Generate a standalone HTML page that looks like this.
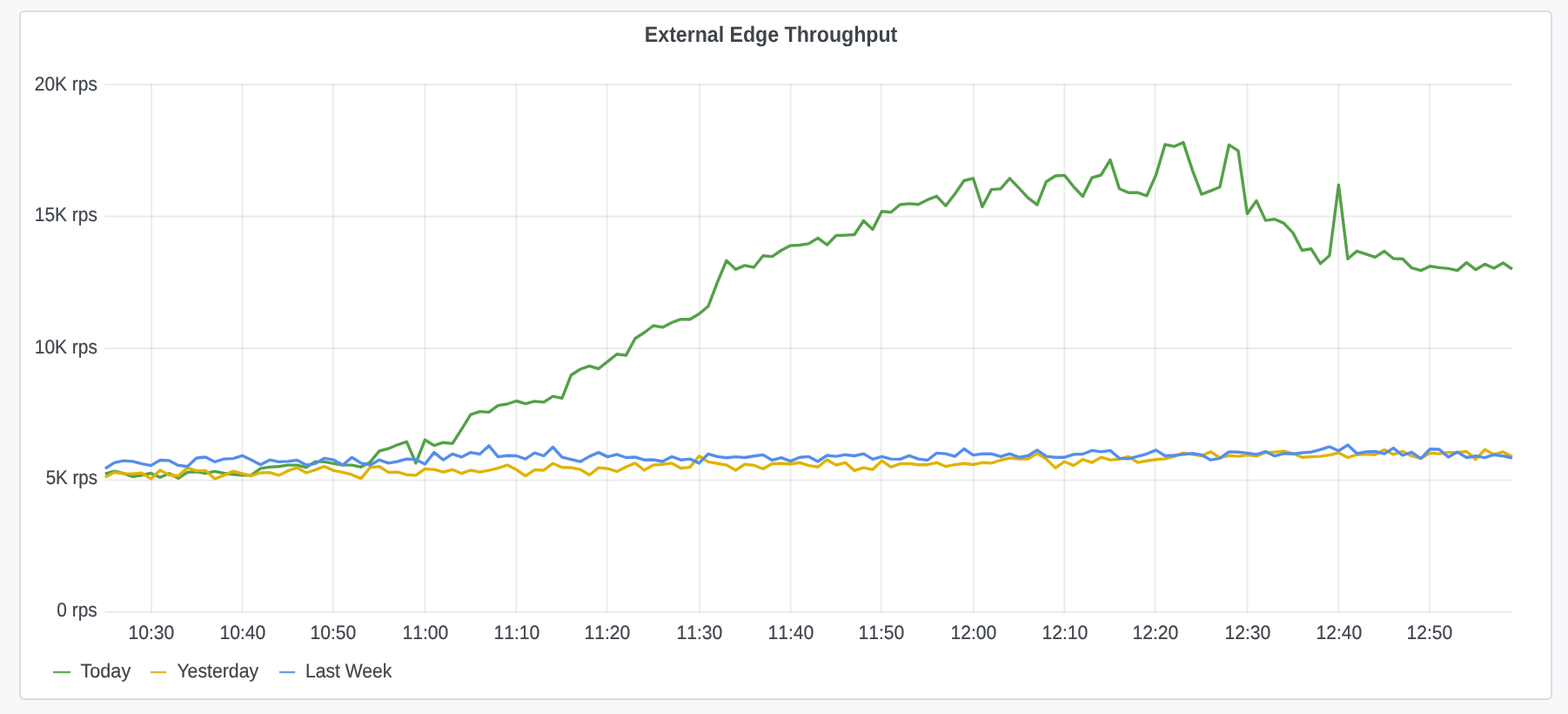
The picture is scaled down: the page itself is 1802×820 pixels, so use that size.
<!DOCTYPE html>
<html lang="en">
<head>
<meta charset="utf-8">
<title>External Edge Throughput</title>
<style>
html,body{margin:0;padding:0}
body{width:1802px;height:820px;overflow:hidden;background:#f7f8fa;position:relative;font-family:"Liberation Sans",sans-serif}
.panel{position:absolute;left:22px;top:12px;width:1758px;height:788px;border:2px solid #dadde0;border-radius:6px;background:#fff}
svg{position:absolute;left:0;top:0}
svg text{font-family:"Liberation Sans",sans-serif;fill:#40454c;stroke:#40454c;stroke-width:.2px;text-rendering:geometricPrecision}
svg text.title{font-weight:bold;fill:#3f444b;stroke:none}
svg text.xl{font-kerning:none}
.grid rect{fill:#000;fill-opacity:.08}
.series path{fill:none;stroke-width:3.4;stroke-linejoin:round;stroke-linecap:butt}
</style>
</head>
<body>
<div class="panel"></div>
<svg width="1802" height="820" viewBox="0 0 1802 820" role="img" aria-label="External Edge Throughput line chart">
<g class="grid">
<rect x="120.5" y="96.15" width="1617.3" height="1.9"/>
<rect x="120.5" y="247.65" width="1617.3" height="1.9"/>
<rect x="120.5" y="399.05" width="1617.3" height="1.9"/>
<rect x="120.5" y="550.55" width="1617.3" height="1.9"/>
<rect x="120.5" y="702.05" width="1617.3" height="1.9"/>
<rect x="173.17" y="96.1" width="1.85" height="607.9"/>
<rect x="277.47" y="96.1" width="1.85" height="607.9"/>
<rect x="381.88" y="96.1" width="1.85" height="607.9"/>
<rect x="487.47" y="96.1" width="1.85" height="607.9"/>
<rect x="592.38" y="96.1" width="1.85" height="607.9"/>
<rect x="696.68" y="96.1" width="1.85" height="607.9"/>
<rect x="803.08" y="96.1" width="1.85" height="607.9"/>
<rect x="907.68" y="96.1" width="1.85" height="607.9"/>
<rect x="1011.78" y="96.1" width="1.85" height="607.9"/>
<rect x="1117.88" y="96.1" width="1.85" height="607.9"/>
<rect x="1222.38" y="96.1" width="1.85" height="607.9"/>
<rect x="1326.67" y="96.1" width="1.85" height="607.9"/>
<rect x="1432.67" y="96.1" width="1.85" height="607.9"/>
<rect x="1537.48" y="96.1" width="1.85" height="607.9"/>
<rect x="1641.98" y="96.1" width="1.85" height="607.9"/>
</g>
<g class="series">
<path stroke="#53a147" d="M120.9 544.1 L131.4 541.1 L141.9 543.7 L152.4 547.4 L162.9 545.7 L173.4 543.5 L183.9 548.2 L194.4 543.7 L204.9 549.3 L215.4 542.4 L225.9 541.8 L236.4 543.5 L246.9 541.3 L257.4 543.5 L267.9 544.8 L278.4 545.7 L288.9 545.7 L299.4 538.0 L309.9 536.4 L320.4 535.7 L330.9 534.1 L341.4 534.1 L351.9 536.8 L362.4 530.2 L372.9 530.4 L383.4 532.4 L393.9 534.1 L404.4 534.1 L414.9 536.3 L425.4 530.7 L435.9 518.0 L446.4 515.2 L456.9 510.8 L467.4 507.4 L477.9 531.9 L488.4 505.2 L498.9 511.6 L509.4 508.2 L519.9 509.4 L530.4 493.1 L540.9 476.1 L551.4 472.6 L561.9 473.4 L572.4 465.6 L582.9 464.0 L593.4 460.5 L603.9 463.6 L614.4 460.9 L624.9 461.9 L635.4 455.1 L645.9 457.3 L656.4 430.7 L666.9 424.0 L677.4 420.3 L687.9 423.5 L698.4 415.2 L708.9 406.7 L719.4 408.1 L729.9 388.8 L740.4 382.0 L750.9 374.0 L761.4 375.9 L771.9 370.5 L782.4 366.6 L792.9 366.8 L803.4 360.5 L813.9 351.8 L824.4 324.4 L834.9 299.2 L845.4 309.4 L855.9 304.9 L866.4 307.0 L876.9 293.8 L887.4 294.6 L897.9 287.5 L908.4 282.1 L918.9 281.5 L929.4 279.9 L939.9 273.4 L950.4 281.2 L960.9 270.5 L971.4 270.1 L981.9 269.5 L992.4 253.5 L1002.9 263.4 L1013.4 242.8 L1023.9 243.7 L1034.4 235.0 L1044.9 233.9 L1055.4 234.7 L1065.9 229.4 L1076.4 225.3 L1086.9 236.3 L1097.4 222.7 L1107.9 207.5 L1118.4 204.8 L1128.9 237.4 L1139.4 217.6 L1149.9 216.9 L1160.4 204.8 L1170.9 215.8 L1181.4 227.2 L1191.9 235.2 L1202.4 208.7 L1212.9 202.0 L1223.4 201.4 L1233.9 214.5 L1244.4 225.6 L1254.9 204.1 L1265.4 201.0 L1275.9 183.6 L1286.4 216.7 L1296.9 221.2 L1307.4 221.2 L1317.9 224.8 L1328.4 201.3 L1338.9 166.0 L1349.4 168.2 L1359.9 163.6 L1370.4 195.6 L1380.9 223.1 L1391.4 219.1 L1401.9 214.7 L1412.4 166.4 L1422.9 173.1 L1433.4 245.4 L1443.9 230.5 L1454.4 253.1 L1464.9 251.7 L1475.4 256.4 L1485.9 267.4 L1496.4 287.5 L1506.9 285.8 L1517.4 302.7 L1527.9 293.5 L1538.4 212.4 L1548.9 297.3 L1559.4 288.4 L1569.9 291.9 L1580.4 295.4 L1590.9 288.5 L1601.4 297.0 L1611.9 297.2 L1622.4 307.7 L1632.9 310.6 L1643.4 305.7 L1653.9 307.4 L1664.4 308.4 L1674.9 310.6 L1685.4 301.6 L1695.9 309.7 L1706.4 303.4 L1716.9 308.0 L1727.4 302.0 L1737.9 309.0"/>
<path stroke="#e0b303" d="M120.9 547.9 L131.4 542.4 L141.9 544.1 L152.4 544.1 L162.9 543.2 L173.4 549.9 L183.9 540.0 L194.4 545.5 L204.9 546.5 L215.4 537.4 L225.9 540.7 L236.4 540.4 L246.9 549.9 L257.4 545.9 L267.9 541.1 L278.4 543.8 L288.9 546.5 L299.4 543.0 L309.9 542.6 L320.4 545.9 L330.9 540.7 L341.4 537.1 L351.9 543.0 L362.4 539.6 L372.9 535.7 L383.4 540.4 L393.9 542.4 L404.4 545.2 L414.9 549.6 L425.4 536.8 L435.9 535.7 L446.4 542.4 L456.9 542.2 L467.4 545.2 L477.9 545.9 L488.4 538.5 L498.9 539.1 L509.4 542.2 L519.9 539.3 L530.4 543.7 L540.9 540.0 L551.4 542.2 L561.9 540.2 L572.4 537.7 L582.9 534.1 L593.4 539.3 L603.9 546.6 L614.4 539.6 L624.9 540.0 L635.4 532.2 L645.9 536.8 L656.4 537.1 L666.9 539.1 L677.4 545.5 L687.9 537.1 L698.4 538.2 L708.9 541.5 L719.4 536.3 L729.9 531.9 L740.4 540.0 L750.9 534.1 L761.4 533.3 L771.9 531.9 L782.4 537.7 L792.9 536.6 L803.4 523.7 L813.9 530.4 L824.4 532.2 L834.9 534.1 L845.4 540.0 L855.9 533.3 L866.4 534.4 L876.9 538.5 L887.4 532.6 L897.9 532.2 L908.4 533.0 L918.9 531.3 L929.4 534.6 L939.9 536.3 L950.4 528.0 L960.9 534.1 L971.4 531.3 L981.9 540.4 L992.4 537.1 L1002.9 539.3 L1013.4 529.1 L1023.9 536.3 L1034.4 532.6 L1044.9 532.4 L1055.4 533.7 L1065.9 533.7 L1076.4 531.3 L1086.9 535.7 L1097.4 533.7 L1107.9 532.2 L1118.4 533.5 L1128.9 531.3 L1139.4 531.9 L1149.9 528.5 L1160.4 526.0 L1170.9 527.1 L1181.4 527.1 L1191.9 520.8 L1202.4 527.1 L1212.9 537.4 L1223.4 530.2 L1233.9 534.6 L1244.4 527.7 L1254.9 531.2 L1265.4 525.2 L1275.9 528.2 L1286.4 527.4 L1296.9 524.4 L1307.4 531.1 L1317.9 529.3 L1328.4 527.7 L1338.9 526.9 L1349.4 524.4 L1359.9 520.2 L1370.4 521.9 L1380.9 523.5 L1391.4 518.9 L1401.9 525.7 L1412.4 523.3 L1422.9 524.1 L1433.4 522.6 L1443.9 523.9 L1454.4 519.6 L1464.9 519.1 L1475.4 518.2 L1485.9 520.8 L1496.4 525.2 L1506.9 524.6 L1517.4 524.1 L1527.9 522.6 L1538.4 520.0 L1548.9 525.5 L1559.4 522.2 L1569.9 521.5 L1580.4 522.2 L1590.9 516.6 L1601.4 521.9 L1611.9 518.3 L1622.4 523.7 L1632.9 526.3 L1643.4 520.4 L1653.9 521.1 L1664.4 519.6 L1674.9 519.6 L1685.4 518.5 L1695.9 527.7 L1706.4 516.3 L1716.9 521.9 L1727.4 518.9 L1737.9 524.6"/>
<path stroke="#548eec" d="M120.9 538.2 L131.4 531.3 L141.9 529.1 L152.4 529.9 L162.9 532.7 L173.4 534.6 L183.9 528.5 L194.4 528.9 L204.9 534.4 L215.4 535.7 L225.9 526.0 L236.4 525.0 L246.9 530.4 L257.4 527.1 L267.9 526.6 L278.4 523.3 L288.9 528.2 L299.4 533.7 L309.9 528.2 L320.4 530.4 L330.9 529.9 L341.4 528.5 L351.9 534.1 L362.4 532.4 L372.9 526.3 L383.4 528.2 L393.9 534.1 L404.4 525.2 L414.9 531.9 L425.4 534.1 L435.9 528.2 L446.4 531.9 L456.9 530.0 L467.4 527.1 L477.9 527.7 L488.4 533.0 L498.9 519.6 L509.4 528.2 L519.9 521.3 L530.4 524.9 L540.9 519.6 L551.4 521.5 L561.9 511.9 L572.4 524.6 L582.9 523.3 L593.4 523.5 L603.9 527.1 L614.4 520.2 L624.9 523.5 L635.4 513.5 L645.9 525.2 L656.4 527.7 L666.9 530.2 L677.4 524.1 L687.9 519.6 L698.4 524.6 L708.9 521.9 L719.4 525.5 L729.9 525.0 L740.4 528.2 L750.9 528.0 L761.4 530.0 L771.9 524.4 L782.4 528.2 L792.9 527.1 L803.4 531.9 L813.9 521.3 L824.4 524.4 L834.9 525.7 L845.4 524.6 L855.9 525.5 L866.4 523.7 L876.9 522.4 L887.4 528.5 L897.9 525.7 L908.4 529.6 L918.9 525.2 L929.4 524.4 L939.9 530.0 L950.4 523.0 L960.9 524.1 L971.4 522.2 L981.9 523.5 L992.4 521.1 L1002.9 527.4 L1013.4 524.4 L1023.9 527.1 L1034.4 527.4 L1044.9 523.3 L1055.4 527.1 L1065.9 528.5 L1076.4 520.4 L1086.9 521.1 L1097.4 524.1 L1107.9 515.5 L1118.4 522.6 L1128.9 521.3 L1139.4 521.1 L1149.9 524.4 L1160.4 521.1 L1170.9 525.2 L1181.4 523.5 L1191.9 516.9 L1202.4 524.1 L1212.9 525.2 L1223.4 525.2 L1233.9 521.9 L1244.4 521.5 L1254.9 517.4 L1265.4 518.9 L1275.9 517.4 L1286.4 526.3 L1296.9 526.9 L1307.4 524.1 L1317.9 521.3 L1328.4 516.9 L1338.9 523.5 L1349.4 523.0 L1359.9 521.9 L1370.4 520.8 L1380.9 522.4 L1391.4 528.2 L1401.9 526.3 L1412.4 518.9 L1422.9 519.3 L1433.4 520.4 L1443.9 521.9 L1454.4 518.5 L1464.9 523.7 L1475.4 520.8 L1485.9 521.3 L1496.4 520.0 L1506.9 519.1 L1517.4 516.3 L1527.9 513.0 L1538.4 517.8 L1548.9 511.1 L1559.4 520.8 L1569.9 518.9 L1580.4 518.5 L1590.9 521.1 L1601.4 514.6 L1611.9 523.0 L1622.4 519.3 L1632.9 526.6 L1643.4 515.8 L1653.9 516.0 L1664.4 524.9 L1674.9 519.1 L1685.4 525.5 L1695.9 523.7 L1706.4 525.7 L1716.9 522.2 L1727.4 523.7 L1737.9 526.0"/>
</g>
<g class="legend-icons">
<rect x="61" y="770.8" width="20" height="2.4" fill="#58a050" opacity=".9"/>
<rect x="173" y="770.8" width="18.2" height="2.4" fill="#dab21c" opacity=".9"/>
<rect x="321" y="770.8" width="18.2" height="2.4" fill="#5f92e4" opacity=".9"/>
</g>
<g class="labels">
<text class="title" transform="translate(740.85 48.00) scale(0.9405 1.0246)" font-size="24.6">External Edge Throughput</text>
<text transform="translate(39.80 104.00) scale(0.9507 1.0316)" font-size="22.0">20K rps</text>
<text transform="translate(39.84 254.00) scale(0.9502 1.0316)" font-size="22.0">15K rps</text>
<text transform="translate(39.84 406.00) scale(0.9502 1.0316)" font-size="22.0">10K rps</text>
<text transform="translate(52.67 556.00) scale(0.9344 1.0316)" font-size="22.0">5K rps</text>
<text transform="translate(65.29 708.00) scale(0.9495 1.0316)" font-size="22.0">0 rps</text>
<text class="xl" transform="translate(147.42 734.00) scale(0.9600 1.0183)" font-size="22.0">10:30</text>
<text class="xl" transform="translate(252.42 734.00) scale(0.9600 1.0183)" font-size="22.0">10:40</text>
<text class="xl" transform="translate(356.42 734.00) scale(0.9600 1.0183)" font-size="22.0">10:50</text>
<text class="xl" transform="translate(462.42 734.00) scale(0.9600 1.0183)" font-size="22.0">11:00</text>
<text class="xl" transform="translate(567.42 734.00) scale(0.9600 1.0183)" font-size="22.0">11:10</text>
<text class="xl" transform="translate(671.42 734.00) scale(0.9600 1.0183)" font-size="22.0">11:20</text>
<text class="xl" transform="translate(777.42 734.00) scale(0.9600 1.0183)" font-size="22.0">11:30</text>
<text class="xl" transform="translate(882.42 734.00) scale(0.9600 1.0183)" font-size="22.0">11:40</text>
<text class="xl" transform="translate(986.42 734.00) scale(0.9600 1.0183)" font-size="22.0">11:50</text>
<text class="xl" transform="translate(1092.42 734.00) scale(0.9600 1.0183)" font-size="22.0">12:00</text>
<text class="xl" transform="translate(1197.42 734.00) scale(0.9600 1.0183)" font-size="22.0">12:10</text>
<text class="xl" transform="translate(1301.42 734.00) scale(0.9600 1.0183)" font-size="22.0">12:20</text>
<text class="xl" transform="translate(1407.42 734.00) scale(0.9600 1.0183)" font-size="22.0">12:30</text>
<text class="xl" transform="translate(1512.42 734.00) scale(0.9600 1.0183)" font-size="22.0">12:40</text>
<text class="xl" transform="translate(1616.42 734.00) scale(0.9600 1.0183)" font-size="22.0">12:50</text>
<text transform="translate(92.41 778.00) scale(0.9845 1.0250)" font-size="22.0">Today</text>
<text transform="translate(203.38 778.00) scale(0.9662 1.0250)" font-size="22.0">Yesterday</text>
<text transform="translate(350.92 778.00) scale(0.9592 1.0250)" font-size="22.0">Last Week</text>
</g>
</svg>
</body>
</html>
